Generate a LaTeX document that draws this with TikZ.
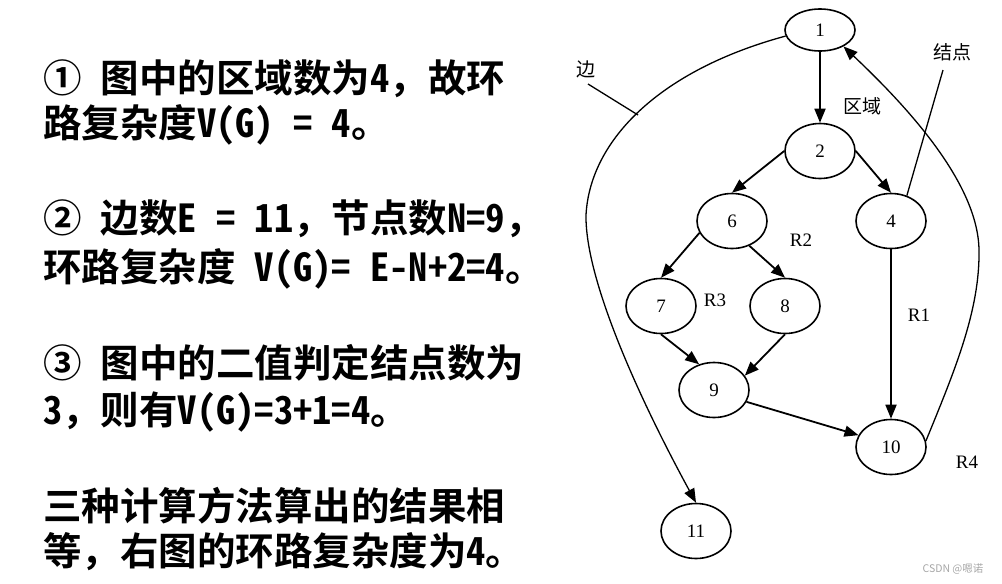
\documentclass[tikz,border=0pt]{standalone}
\usepackage{fontspec}
\setmainfont{Liberation Serif}
\newfontfamily\cjk{Noto Sans CJK SC}
\newfontfamily\cjkmono{Noto Sans Mono CJK SC}
\usetikzlibrary{shapes.geometric,arrows.meta}

\begin{document}
\begin{tikzpicture}[x=1pt,y=-1pt,
    blk/.style={ellipse,draw,line width=1.6pt,minimum width=70pt,minimum height=55pt,
        inner sep=0pt,font=\fontsize{19}{19}\selectfont},
    flow/.style={-{Triangle[length=14pt,width=11pt]},line width=1.8pt},
    loopedge/.style={-{Triangle[length=14pt,width=11pt]},line width=1.3pt},
    note/.style={line width=1.3pt},
    txt/.style={anchor=west,inner sep=0pt,font=\cjkmono\bfseries\fontsize{38.5}{38.5}\selectfont},
    lab/.style={inner sep=0pt,font=\fontsize{19}{19}\selectfont},
    cjklab/.style={inner sep=0pt,font=\cjk\fontsize{19}{19}\selectfont}]
    \useasboundingbox (0,0) rectangle (1002,584);

    \node[txt] (t1) at (43,79) {①\hspace{.5em}图中的区域数为4，故环};
    \node[txt] (t2) at (43,125) {路复杂度V(G) = 4。};
    \node[txt] (t3) at (43,219) {②\hspace{.5em}边数E = 11，节点数N=9，};
    \node[txt] (t4) at (43,269) {环路复杂度 V(G)= E-N+2=4。};
    \node[txt] (t5) at (43,363) {③\hspace{.5em}图中的二值判定结点数为};
    \node[txt] (t6) at (43,412) {3，则有V(G)=3+1=4。};
    \node[txt] (t7) at (43,506) {三种计算方法算出的结果相};
    \node[txt] (t8) at (43,552) {等，右图的环路复杂度为4。};

    \node[blk,minimum height=42pt] (n1) at (820,30) {1};
    \node[blk] (n2) at (820,151) {2};
    \node[blk] (n6) at (732,221) {6};
    \node[blk] (n4) at (891,221) {4};
    \node[blk] (n7) at (661,306) {7};
    \node[blk] (n8) at (785,306) {8};
    \node[blk] (n9) at (714,390) {9};
    \node[blk] (n10) at (891,447) {10};
    \node[blk] (n11) at (696,531) {11};

    \draw[flow] (n1.south) -- (n2.north);
    \draw[flow] (n2.west) -- (n6.north);
    \draw[flow] (n2.east) -- (n4.north);
    \draw[flow] (n6.200) -- (n7.north);
    \draw[flow] (n6.-55) -- (n8.north);
    \draw[flow] (n7.south) -- (n9.120);
    \draw[flow] (n8.south) -- (n9.25);
    \draw[flow] (n9.-20) -- (n10.160);
    \draw[flow] (n4.south) -- (n10.north);
    \draw[loopedge] (n10.10) .. controls (955,370) and (980,310) .. (979,250)
        .. controls (978,180) and (900,100) .. (n1.-35);
    \draw[loopedge] (n1.190) .. controls (660,70) and (590,140) .. (586,215)
        .. controls (585,280) and (640,400) .. (n11.north);

    \node[cjklab] (bian) at (586,69) {边};
    \coordinate (bianA) at (588,84);
    \coordinate (bianB) at (638,115);
    \draw[note] (bianA) -- (bianB);
    \node[cjklab] (jiedian) at (952,52) {结点};
    \coordinate (jdA) at (943,70);
    \draw[note] (jdA) -- (n4.58);
    \node[cjklab] (quyu) at (862,106) {区域};

    \node[lab] (r1) at (919,315) {R1};
    \node[lab] (r2) at (801,240) {R2};
    \node[lab] (r3) at (715,300) {R3};
    \node[lab] (r4) at (967,462) {R4};

    \node[inner sep=0pt,text=black!35,font=\cjk\fontsize{10.5}{10.5}\selectfont] (mark) at (953,569) {CSDN @嗯诺};
\end{tikzpicture}
\end{document}
